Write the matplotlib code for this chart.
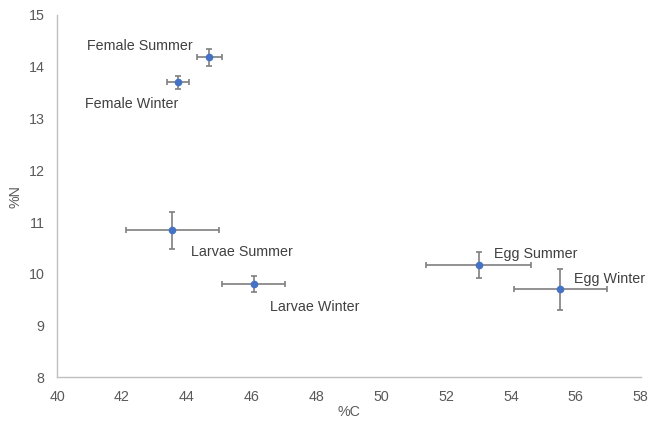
import matplotlib
matplotlib.use("Agg")
import matplotlib.pyplot as plt

plt.rcParams['font.family'] = ['Liberation Sans', 'DejaVu Sans']

# Stable isotope composition (mean ± SD) by life stage and season
groups = ["Female Summer", "Female Winter", "Larvae Summer",
          "Larvae Winter", "Egg Summer", "Egg Winter"]
carbon = [44.70, 43.73, 43.56, 46.06, 53.00, 55.52]
carbon_sd = [0.39, 0.34, 1.44, 0.96, 1.63, 1.44]
nitrogen = [14.18, 13.70, 10.84, 9.81, 10.17, 9.70]
nitrogen_sd = [0.16, 0.12, 0.35, 0.15, 0.25, 0.40]

x_ticks = [40, 42, 44, 46, 48, 50, 52, 54, 56, 58]
y_ticks = [8, 9, 10, 11, 12, 13, 14, 15]

# label placement relative to each point (pixels)
label_offsets = [(-122.6, 7.3), (-93, -25.7), (18.4, -25.3),
                 (16.7, -27), (15, 7), (14, 6.3)]

text_col = "#595959"
axis_col = "#bfbfbf"

fig = plt.figure(figsize=(6.48, 4.22), dpi=100)
ax = fig.add_axes([0.088, 0.1055, 0.9007, 0.859])

ax.errorbar(carbon, nitrogen, xerr=carbon_sd, yerr=nitrogen_sd,
            fmt='o', color='#4472C4', markersize=4.5,
            ecolor='#7f7f7f', elinewidth=1.2, capsize=2.5, capthick=1.2,
            zorder=3)

for name, cx, ny, (dx, dy) in zip(groups, carbon, nitrogen, label_offsets):
    ax.annotate(name, (cx, ny), xytext=(dx, dy), textcoords='offset pixels',
                ha='left', va='baseline', fontsize=10.3, color='#404040')

ax.set_xlim(x_ticks[0], x_ticks[-1])
ax.set_ylim(y_ticks[0], y_ticks[-1])
ax.set_xticks(x_ticks)
ax.set_yticks(y_ticks)
ax.tick_params(length=0, labelsize=10.3, colors=text_col)
ax.tick_params(axis='x', pad=9)
ax.tick_params(axis='y', pad=9)

for side in ('top', 'right'):
    ax.spines[side].set_visible(False)
for side in ('left', 'bottom'):
    ax.spines[side].set_color(axis_col)
    ax.spines[side].set_linewidth(1.0)

ax.set_xlabel("%C", fontsize=10.3, color=text_col, labelpad=1)
ax.set_ylabel("%N", fontsize=10.3, color=text_col, labelpad=4)

fig.savefig("out.png", dpi=100)
